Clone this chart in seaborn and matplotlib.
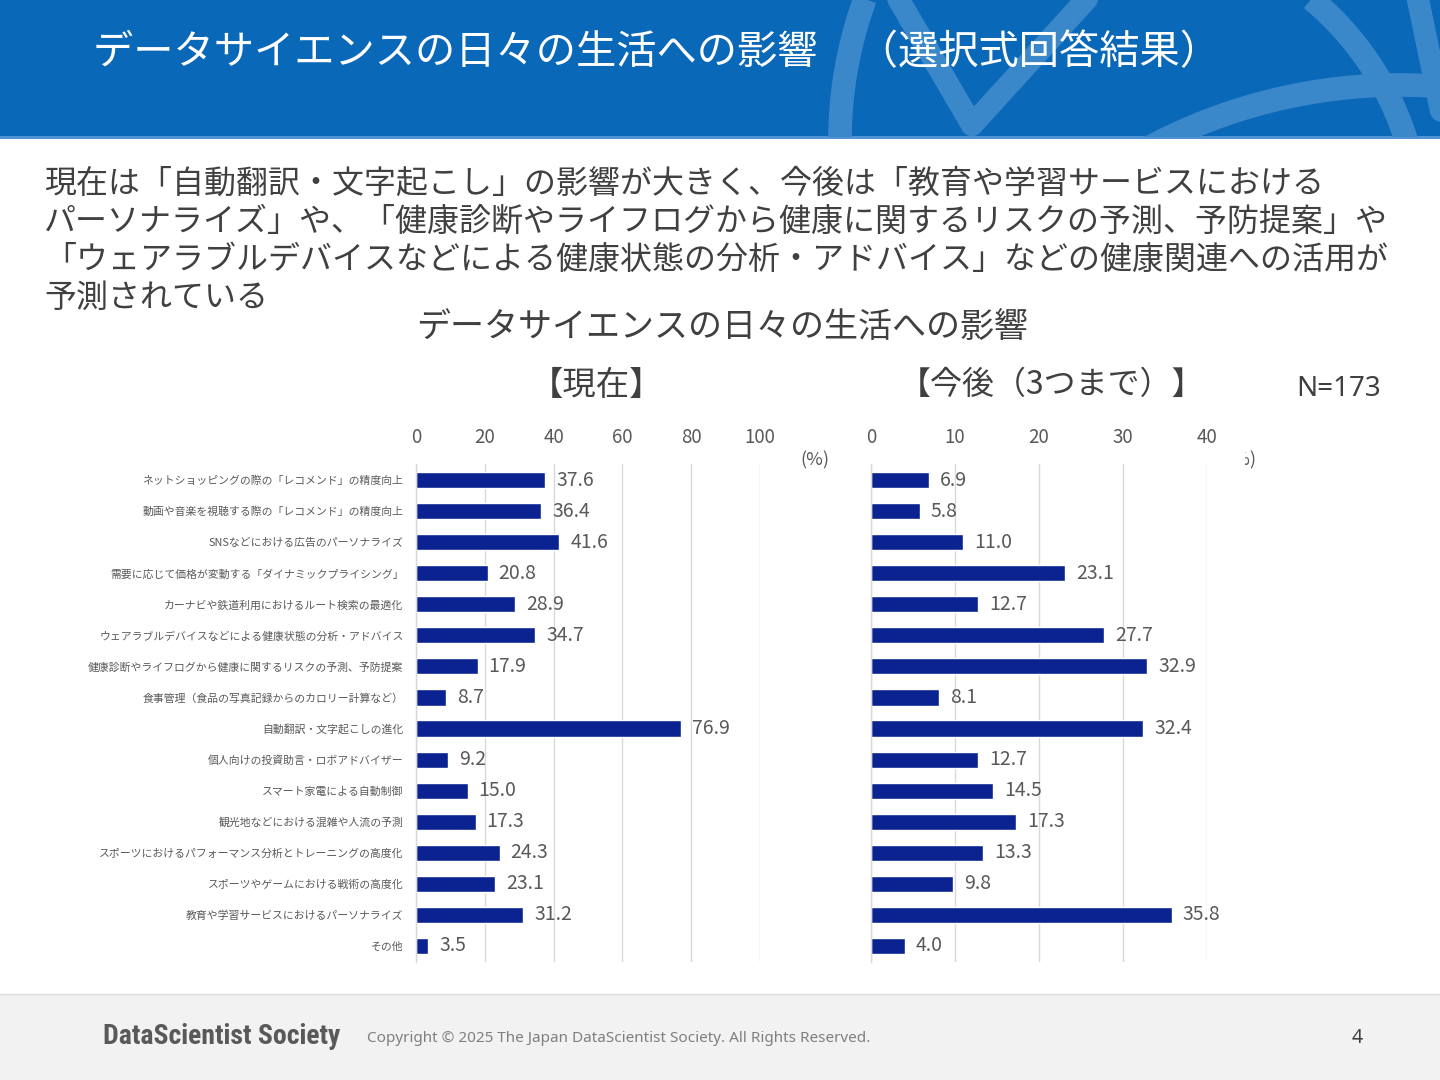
import numpy as np
import pandas as pd
import matplotlib
matplotlib.use("Agg")
import matplotlib.pyplot as plt
import seaborn as sns
from matplotlib.patches import Rectangle
from matplotlib import font_manager as fm

# ---------------- data ----------------
items = [
    "ネットショッピングの際の「レコメンド」の精度向上",
    "動画や音楽を視聴する際の「レコメンド」の精度向上",
    "SNSなどにおける広告のパーソナライズ",
    "需要に応じて価格が変動する「ダイナミックプライシング」",
    "カーナビや鉄道利用におけるルート検索の最適化",
    "ウェアラブルデバイスなどによる健康状態の分析・アドバイス",
    "健康診断やライフログから健康に関するリスクの予測、予防提案",
    "食事管理（食品の写真記録からのカロリー計算など）",
    "自動翻訳・文字起こしの進化",
    "個人向けの投資助言・ロボアドバイザー",
    "スマート家電による自動制御",
    "観光地などにおける混雑や人流の予測",
    "スポーツにおけるパフォーマンス分析とトレーニングの高度化",
    "スポーツやゲームにおける戦術の高度化",
    "教育や学習サービスにおけるパーソナライズ",
    "その他",
]
current = [37.6, 36.4, 41.6, 20.8, 28.9, 34.7, 17.9, 8.7, 76.9, 9.2, 15.0, 17.3, 24.3, 23.1, 31.2, 3.5]
future = [6.9, 5.8, 11.0, 23.1, 12.7, 27.7, 32.9, 8.1, 32.4, 12.7, 14.5, 17.3, 13.3, 9.8, 35.8, 4.0]
ticks_current = [0, 20, 40, 60, 80, 100]
ticks_future = [0, 10, 20, 30, 40]

title = "データサイエンスの日々の生活への影響　（選択式回答結果）"
summary_lines = [
    "現在は「自動翻訳・文字起こし」の影響が大きく、今後は「教育や学習サービスにおける",
    "パーソナライズ」や、「健康診断やライフログから健康に関するリスクの予測、予防提案」や",
    "「ウェアラブルデバイスなどによる健康状態の分析・アドバイス」などの健康関連への活用が",
    "予測されている",
]
chart_title = "データサイエンスの日々の生活への影響"
panel_titles = ["【現在】", "【今後（3つまで）】"]
n_label = "N=173"

df = pd.DataFrame({"item": items, "current": current, "future": future})

# ---------------- style ----------------
sns.set_theme(style="white")
plt.rcParams["font.family"] = ["Noto Sans CJK JP", "DejaVu Sans"]

W, H = 1440, 1080
BAR = "#0B2391"
GRID = "#D9D9D9"
TXT = "#595959"
DARK = "#404040"

installed = {f.name for f in fm.fontManager.ttflist}
logo_family, logo_size = "Liberation Sans", 16.7
for fam, size in [("Roboto Condensed", 20), ("Liberation Sans Narrow", 20), ("DejaVu Sans Condensed", 17)]:
    if fam in installed:
        logo_family, logo_size = fam, size
        break

fig = plt.figure(figsize=(14.4, 10.8), dpi=100)
fig.patch.set_facecolor("white")

bg = fig.add_axes([0, 0, 1, 1], zorder=0)
bg.set_xlim(0, W)
bg.set_ylim(H, 0)
bg.axis("off")

# header band
header = Rectangle((0, 0), W, 137, facecolor="#0A68B8", edgecolor="none")
bg.add_patch(header)
deco = "#3A88CA"


def arc(cx, cy, r, t0, t1):
    t = np.linspace(np.radians(t0), np.radians(t1), 200)
    return cx + r * np.cos(t), cy + r * np.sin(t)


for (cx, cy, r, t0, t1) in [(1250, 140, 410, 150, 210),
                             (1120, 230, 300, -70, 10),
                             (1400, 620, 535, 230, 300)]:
    xs, ys = arc(cx, cy, r, t0, t1)
    ln, = bg.plot(xs, ys, color=deco, lw=17, solid_capstyle="butt")
    ln.set_clip_path(header)
for seg in [((893, 972), (-10, 125)), ((972, 1095), (125, -10)), ((1416, 1445), (-10, 130))]:
    ln, = bg.plot(seg[0], seg[1], color=deco, lw=16, solid_capstyle="round")
    ln.set_clip_path(header)
bg.add_patch(Rectangle((0, 136), W, 2.5, facecolor="#4F93D2", edgecolor="none"))

# footer band
bg.add_patch(Rectangle((0, 994), W, 86, facecolor="#F2F2F2", edgecolor="none"))
bg.plot([0, W], [994, 994], color="#DCDCDC", lw=1)

# texts
bg.text(93, 53, title, color="white", fontsize=29, va="center", ha="left")
for i, line in enumerate(summary_lines):
    bg.text(44, 184 + 38 * i, line, fontsize=23, color=DARK, va="center", ha="left")
bg.text(722, 327, chart_title, fontsize=24.5, color=DARK, ha="center", va="center")
bg.text(597, 385, panel_titles[0], fontsize=24, color=DARK, ha="center", va="center")
bg.text(1052, 385, panel_titles[1], fontsize=23, color=DARK, ha="center", va="center")
bg.text(1339, 389, n_label, fontsize=20, color=DARK, ha="center", va="center",
        family=["Noto Sans", "DejaVu Sans"])
bg.text(815, 460, "(%)", fontsize=13, color=TXT, ha="center", va="center")
t = bg.text(1242, 460, "(%)", fontsize=13, color=TXT, ha="center", va="center")
clip = Rectangle((1245, 440), 60, 40, transform=bg.transData)
t.set_clip_on(True)
t.set_clip_path(clip)

bg.text(103, 1037, "DataScientist Society", fontsize=logo_size, fontweight="bold", color="#595959",
        va="center", ha="left", family=[logo_family, "DejaVu Sans"])
bg.text(367, 1038, "Copyright © 2025 The Japan DataScientist Society. All Rights Reserved.",
        fontsize=11, color="#7F7F7F", va="center", ha="left", family=["Noto Sans", "DejaVu Sans"])
bg.text(1357, 1038, "4", fontsize=14, color=DARK, va="center", ha="center",
        family=["Noto Sans", "DejaVu Sans"])


# ---------------- charts ----------------
def px_axes(x0, y0, x1, y1):
    return [x0 / W, 1 - y1 / H, (x1 - x0) / W, (y1 - y0) / H]


ax1 = fig.add_axes(px_axes(416, 464.5, 760, 961.5), zorder=2)
ax2 = fig.add_axes(px_axes(871, 464.5, 1207, 961.5), zorder=2)

for ax, col, ticks in [(ax1, "current", ticks_current), (ax2, "future", ticks_future)]:
    sns.barplot(data=df, x=col, y="item", orient="h", color=BAR, saturation=1,
                width=0.52, ax=ax, errorbar=None)
    ax.set_facecolor("none")
    ax.set_xlim(ticks[0], ticks[-1])
    ax.set_ylim(len(items) - 0.5, -0.5)
    ax.set_xticks(ticks)
    ax.xaxis.tick_top()
    ax.tick_params(axis="x", length=0, pad=12, labelsize=13.5, labelcolor=TXT)
    ax.tick_params(axis="y", length=0, pad=9, labelsize=7.8, labelcolor=TXT)
    ax.grid(axis="x", color=GRID, lw=1.0)
    ax.grid(axis="y", visible=False)
    ax.set_axisbelow(True)
    for s in ["top", "right", "bottom"]:
        ax.spines[s].set_visible(False)
    ax.spines["left"].set_color(GRID)
    ax.spines["left"].set_linewidth(1.0)
    ax.set_xlabel("")
    ax.set_ylabel("")
    ax.bar_label(ax.containers[0], fmt="%.1f", padding=8, fontsize=14, color=TXT)

ax2.tick_params(axis="y", labelleft=False)

fig.savefig("out.png", dpi=100)
